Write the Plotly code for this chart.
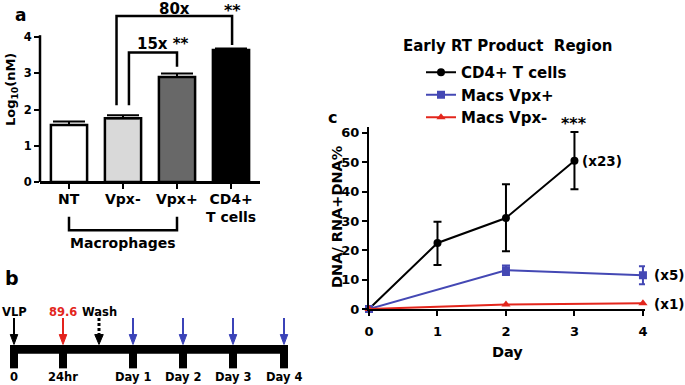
import plotly.graph_objects as go

FONT = "DejaVu Sans, Liberation Sans, Arial, sans-serif"
W, H = 685, 385

# ---------------- Panel a data ----------------
a_positions = [0, 1, 2, 3]
a_categories = ["NT", "Vpx-", "Vpx+", "CD4+<br>T cells"]
a_values = [1.57, 1.76, 2.90, 3.64]
a_errors = [0.10, 0.08, 0.09, 0.04]
a_colors = ["#ffffff", "#d9d9d9", "#686868", "#000000"]
a_yticks = [0, 1, 2, 3, 4]

# ---------------- Panel b data ----------------
b_labels = ["0", "24hr", "Day 1", "Day 2", "Day 3", "Day 4"]
b_positions = [0, 0.98, 2.38, 3.38, 4.38, 5.40]
b_wash_pos = 1.70
b_arrow_colors = ["#000000", "#e3221c", "#3b43b8", "#3b43b8", "#3b43b8", "#3b43b8"]

# ---------------- Panel c data ----------------
c_days_cd4 = [0, 1, 2, 3]
c_cd4 = [0, 22.5, 31.0, 50.5]
c_cd4_err_plus = [0, 7.2, 11.5, 9.8]
c_cd4_err_minus = [0, 7.5, 11.3, 9.7]
c_days_macs = [0, 2, 4]
c_vpx_pos = [0, 13.2, 11.5]
c_vpx_pos_err = [0, 1.6, 3.1]
c_vpx_neg = [0, 1.5, 2.0]
c_xticks = [0, 1, 2, 3, 4]
c_yticks = [0, 10, 20, 30, 40, 50, 60]

BLUE = "#4448b4"
RED = "#e3261c"

fig = go.Figure()

# ---------- Panel a ----------
fig.add_trace(go.Bar(
    x=a_positions, y=a_values, width=0.67,
    marker=dict(color=a_colors, line=dict(color="black", width=2.5)),
    error_y=dict(type="data", symmetric=False, array=a_errors,
                 arrayminus=[0] * len(a_errors), color="black", thickness=2, width=16),
    xaxis="x", yaxis="y", showlegend=False, hoverinfo="skip",
))

# ---------- Panel c ----------
fig.add_trace(go.Scatter(
    x=c_days_cd4, y=c_cd4, mode="lines+markers", name="CD4+ T cells",
    line=dict(color="black", width=2), marker=dict(symbol="circle", size=8, color="black"),
    error_y=dict(type="data", symmetric=False, array=c_cd4_err_plus,
                 arrayminus=c_cd4_err_minus, color="black", thickness=2, width=4),
    xaxis="x2", yaxis="y2", cliponaxis=False,
))
fig.add_trace(go.Scatter(
    x=c_days_macs, y=c_vpx_pos, mode="lines+markers", name="Macs Vpx+",
    line=dict(color=BLUE, width=2), marker=dict(symbol="square", size=8, color=BLUE),
    error_y=dict(type="data", array=c_vpx_pos_err, color=BLUE, thickness=2, width=4),
    xaxis="x2", yaxis="y2", cliponaxis=False,
))
fig.add_trace(go.Scatter(
    x=c_days_macs, y=c_vpx_neg, mode="lines+markers", name="Macs Vpx-",
    line=dict(color=RED, width=2), marker=dict(symbol="triangle-up", size=8, color=RED),
    xaxis="x2", yaxis="y2", cliponaxis=False,
))


def px(x):
    return x / W


def py(y):
    return 1 - y / H


# panel a y scale: 0 at 182 px, 36.25 px per unit
a_ppu = 36.25
a_dom_top, a_dom_bot = 5, 238
a_yrange = [(182 - a_dom_bot) / a_ppu, (182 - a_dom_top) / a_ppu]
a_xrange = [-0.537, 3.537]

fig.update_layout(
    width=W, height=H,
    margin=dict(l=0, r=0, t=0, b=0, autoexpand=False),
    paper_bgcolor="white", plot_bgcolor="rgba(0,0,0,0)",
    font=dict(family=FONT, color="black", size=14, weight="bold"),
    xaxis=dict(domain=[px(40), px(260)], range=a_xrange, anchor="free", position=py(182),
               showline=True, linewidth=2.5, linecolor="black",
               ticks="outside", ticklen=5, tickwidth=2, tickcolor="black",
               tickvals=a_positions, showticklabels=False,
               showgrid=False, zeroline=False, fixedrange=True),
    yaxis=dict(domain=[py(a_dom_bot), py(a_dom_top)], range=a_yrange, anchor="x",
               showline=False, ticks="outside", ticklen=5, tickwidth=2, tickcolor="black",
               tickvals=a_yticks, tickfont=dict(size=11.5),
               showgrid=False, zeroline=False, fixedrange=True),
    xaxis2=dict(domain=[px(369), px(645)], range=[0, 4.03], anchor="y2",
                showline=True, linewidth=2, linecolor="black",
                ticks="outside", ticklen=5, tickwidth=2, tickcolor="black",
                tickvals=c_xticks, tickfont=dict(size=13), ticklabelstandoff=4,
                showgrid=False, zeroline=False, fixedrange=True),
    yaxis2=dict(domain=[py(309), py(127)], range=[0, 62], anchor="x2",
                showline=True, linewidth=2, linecolor="black",
                ticks="outside", ticklen=5, tickwidth=2, tickcolor="black",
                tickvals=c_yticks, tickfont=dict(size=13),
                showgrid=False, zeroline=False, fixedrange=True),
    xaxis3=dict(domain=[px(8), px(290)], range=[-0.12, 5.52], anchor="y3",
                visible=False, fixedrange=True),
    yaxis3=dict(domain=[0, py(281)], range=[0, 1], anchor="x3",
                visible=False, fixedrange=True),
    legend=dict(x=px(421), y=py(56), xanchor="left", yanchor="top",
                font=dict(size=15), bgcolor="rgba(0,0,0,0)",
                itemwidth=30, tracegroupgap=0),
    showlegend=True,
)

shapes = []
ann = []


def label(x, y, text, size, xref="paper", yref="paper", **kw):
    d = dict(x=x, y=y, xref=xref, yref=yref, text=text, showarrow=False,
             xanchor=kw.pop("xanchor", "center"), yanchor=kw.pop("yanchor", "middle"),
             font=dict(size=size, color=kw.pop("color", "black")))
    d.update(kw)
    return d


# ----- panel a: y axis line
shapes.append(dict(type="line", xref="x domain", yref="y", x0=0, x1=0, y0=0, y1=4.05,
                   line=dict(color="black", width=2.5)))


def bracket(xl, xr, y_top, yl_bot, yr_bot, xref="x", yref="y"):
    return dict(type="path", xref=xref, yref=yref,
                path=f"M {xl},{yl_bot} L {xl},{y_top} L {xr},{y_top} L {xr},{yr_bot}",
                line=dict(color="black", width=2.5))


shapes.append(bracket(0.88, 3.02, 4.58, 2.12, 3.78))
shapes.append(bracket(1.11, 2.0, 3.57, 2.12, 3.18))
shapes.append(bracket(0.0, 2.0, -1.33, -0.96, -0.96))

# category labels
for p, cat in zip(a_positions, a_categories):
    ann.append(label(p, 0, cat, 14, xref="x", yref="y", yanchor="top", yshift=-7))

ann += [
    label(1.95, 4.78, "80x", 15, xref="x", yref="y"),
    label(3.02, 4.72, "**", 16, xref="x", yref="y"),
    label(1.74, 3.82, "15x **", 15, xref="x", yref="y"),
    label(1.0, py(243), "Macrophages", 14, xref="x", yref="paper"),
    label(px(20), py(15), "a", 17),
    label(px(12), py(90), "Log<sub>10</sub>(nM)", 13, textangle=-90),
]

# ----- panel b: timeline
bar_lo, bar_hi = 0.30, 0.385
shapes.append(dict(type="rect", xref="x3", yref="y3", x0=-0.08, x1=b_positions[-1] + 0.08,
                   y0=bar_lo, y1=bar_hi, fillcolor="black", line=dict(width=0)))
for p, lab, col in zip(b_positions, b_labels, b_arrow_colors):
    shapes.append(dict(type="rect", xref="x3", yref="y3", x0=p - 0.08, x1=p + 0.08,
                       y0=0.16, y1=bar_lo + 0.01, fillcolor="black", line=dict(width=0)))
    ann.append(label(p, 0.075, lab, 11.5, xref="x3", yref="y3"))
    shapes.append(dict(type="line", xref="x3", yref="y3", x0=p, x1=p, y0=0.645, y1=0.47,
                       line=dict(color=col, width=2)))
    shapes.append(dict(type="path", xref="x3", yref="y3",
                       path=f"M {p - 0.075},0.485 L {p + 0.075},0.485 L {p},0.39 Z",
                       fillcolor=col, line=dict(color=col, width=1)))
shapes.append(dict(type="line", xref="x3", yref="y3", x0=b_wash_pos, x1=b_wash_pos, y0=0.645, y1=0.49,
                   line=dict(color="black", width=3, dash="3px,2px")))
shapes.append(dict(type="path", xref="x3", yref="y3",
                   path=f"M {b_wash_pos - 0.085},0.485 L {b_wash_pos + 0.085},0.485 L {b_wash_pos},0.39 Z",
                   fillcolor="black", line=dict(color="black", width=1)))
ann += [
    label(b_positions[0], 0.70, "VLP", 11.5, xref="x3", yref="y3"),
    label(b_positions[1], 0.70, "89.6", 11.5, xref="x3", yref="y3", color=RED),
    label(b_wash_pos, 0.70, "Wash", 11.5, xref="x3", yref="y3"),
    label(px(12), py(278), "b", 19),
]

# ----- panel c annotations
ann += [
    label(px(507), py(46), "Early RT Product  Region", 15),
    label(px(332), py(117), "c", 16),
    label(px(337), py(217), "DNA/ RNA+DNA%", 14.5, textangle=-90),
    label(px(507), py(352), "Day", 14.5),
    label(c_days_cd4[-1], c_cd4[-1] + c_cd4_err_plus[-1], "***", 16, xref="x2", yref="y2",
          yanchor="bottom", yshift=-3),
    label(c_days_cd4[-1], c_cd4[-1], "(x23)", 13.5, xref="x2", yref="y2", xanchor="left", xshift=6),
    label(c_days_macs[-1], c_vpx_pos[-1], "(x5)", 13.5, xref="x2", yref="y2", xanchor="left", xshift=9),
    label(c_days_macs[-1], c_vpx_neg[-1], "(x1)", 13.5, xref="x2", yref="y2", xanchor="left", xshift=9,
          yshift=-1),
]

fig.update_layout(shapes=shapes, annotations=ann)
fig.write_html("out.html", config={"displayModeBar": False},
               post_script="document.body.style.margin='0';document.body.style.overflow='hidden';")
